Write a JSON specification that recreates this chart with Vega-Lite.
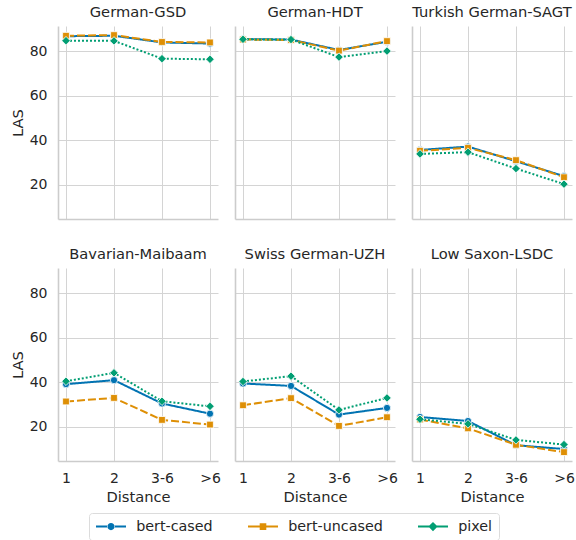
{
  "$schema": "https://vega.github.io/schema/vega-lite/v6.json",
  "padding": {"left": 10, "top": 5, "right": 5, "bottom": 0},
  "background": "white",
  "data": {"values": [
    {"ds": "German-GSD", "model": "bert-cased", "dist": "1", "las": 86.8},
    {"ds": "German-GSD", "model": "bert-cased", "dist": "2", "las": 87.0},
    {"ds": "German-GSD", "model": "bert-cased", "dist": "3-6", "las": 84.0},
    {"ds": "German-GSD", "model": "bert-cased", "dist": ">6", "las": 83.5},
    {"ds": "German-GSD", "model": "bert-uncased", "dist": "1", "las": 87.0},
    {"ds": "German-GSD", "model": "bert-uncased", "dist": "2", "las": 87.3},
    {"ds": "German-GSD", "model": "bert-uncased", "dist": "3-6", "las": 84.2},
    {"ds": "German-GSD", "model": "bert-uncased", "dist": ">6", "las": 84.0},
    {"ds": "German-GSD", "model": "pixel", "dist": "1", "las": 84.8},
    {"ds": "German-GSD", "model": "pixel", "dist": "2", "las": 84.7},
    {"ds": "German-GSD", "model": "pixel", "dist": "3-6", "las": 76.7},
    {"ds": "German-GSD", "model": "pixel", "dist": ">6", "las": 76.4},
    {"ds": "German-HDT", "model": "bert-cased", "dist": "1", "las": 85.5},
    {"ds": "German-HDT", "model": "bert-cased", "dist": "2", "las": 85.3},
    {"ds": "German-HDT", "model": "bert-cased", "dist": "3-6", "las": 80.6},
    {"ds": "German-HDT", "model": "bert-cased", "dist": ">6", "las": 84.3},
    {"ds": "German-HDT", "model": "bert-uncased", "dist": "1", "las": 85.3},
    {"ds": "German-HDT", "model": "bert-uncased", "dist": "2", "las": 85.1},
    {"ds": "German-HDT", "model": "bert-uncased", "dist": "3-6", "las": 80.3},
    {"ds": "German-HDT", "model": "bert-uncased", "dist": ">6", "las": 84.6},
    {"ds": "German-HDT", "model": "pixel", "dist": "1", "las": 85.4},
    {"ds": "German-HDT", "model": "pixel", "dist": "2", "las": 85.3},
    {"ds": "German-HDT", "model": "pixel", "dist": "3-6", "las": 77.4},
    {"ds": "German-HDT", "model": "pixel", "dist": ">6", "las": 80.1},
    {"ds": "Turkish German-SAGT", "model": "bert-cased", "dist": "1", "las": 35.6},
    {"ds": "Turkish German-SAGT", "model": "bert-cased", "dist": "2", "las": 37.1},
    {"ds": "Turkish German-SAGT", "model": "bert-cased", "dist": "3-6", "las": 30.5},
    {"ds": "Turkish German-SAGT", "model": "bert-cased", "dist": ">6", "las": 23.8},
    {"ds": "Turkish German-SAGT", "model": "bert-uncased", "dist": "1", "las": 35.2},
    {"ds": "Turkish German-SAGT", "model": "bert-uncased", "dist": "2", "las": 36.5},
    {"ds": "Turkish German-SAGT", "model": "bert-uncased", "dist": "3-6", "las": 31.0},
    {"ds": "Turkish German-SAGT", "model": "bert-uncased", "dist": ">6", "las": 23.3},
    {"ds": "Turkish German-SAGT", "model": "pixel", "dist": "1", "las": 33.8},
    {"ds": "Turkish German-SAGT", "model": "pixel", "dist": "2", "las": 34.6},
    {"ds": "Turkish German-SAGT", "model": "pixel", "dist": "3-6", "las": 27.2},
    {"ds": "Turkish German-SAGT", "model": "pixel", "dist": ">6", "las": 20.2},
    {"ds": "Bavarian-Maibaam", "model": "bert-cased", "dist": "1", "las": 39.1},
    {"ds": "Bavarian-Maibaam", "model": "bert-cased", "dist": "2", "las": 40.9},
    {"ds": "Bavarian-Maibaam", "model": "bert-cased", "dist": "3-6", "las": 30.4},
    {"ds": "Bavarian-Maibaam", "model": "bert-cased", "dist": ">6", "las": 25.8},
    {"ds": "Bavarian-Maibaam", "model": "bert-uncased", "dist": "1", "las": 31.3},
    {"ds": "Bavarian-Maibaam", "model": "bert-uncased", "dist": "2", "las": 32.9},
    {"ds": "Bavarian-Maibaam", "model": "bert-uncased", "dist": "3-6", "las": 23.0},
    {"ds": "Bavarian-Maibaam", "model": "bert-uncased", "dist": ">6", "las": 20.9},
    {"ds": "Bavarian-Maibaam", "model": "pixel", "dist": "1", "las": 40.4},
    {"ds": "Bavarian-Maibaam", "model": "pixel", "dist": "2", "las": 44.2},
    {"ds": "Bavarian-Maibaam", "model": "pixel", "dist": "3-6", "las": 31.4},
    {"ds": "Bavarian-Maibaam", "model": "pixel", "dist": ">6", "las": 29.1},
    {"ds": "Swiss German-UZH", "model": "bert-cased", "dist": "1", "las": 39.4},
    {"ds": "Swiss German-UZH", "model": "bert-cased", "dist": "2", "las": 38.3},
    {"ds": "Swiss German-UZH", "model": "bert-cased", "dist": "3-6", "las": 25.4},
    {"ds": "Swiss German-UZH", "model": "bert-cased", "dist": ">6", "las": 28.4},
    {"ds": "Swiss German-UZH", "model": "bert-uncased", "dist": "1", "las": 29.6},
    {"ds": "Swiss German-UZH", "model": "bert-uncased", "dist": "2", "las": 32.8},
    {"ds": "Swiss German-UZH", "model": "bert-uncased", "dist": "3-6", "las": 20.3},
    {"ds": "Swiss German-UZH", "model": "bert-uncased", "dist": ">6", "las": 24.2},
    {"ds": "Swiss German-UZH", "model": "pixel", "dist": "1", "las": 40.3},
    {"ds": "Swiss German-UZH", "model": "pixel", "dist": "2", "las": 42.7},
    {"ds": "Swiss German-UZH", "model": "pixel", "dist": "3-6", "las": 27.5},
    {"ds": "Swiss German-UZH", "model": "pixel", "dist": ">6", "las": 32.9},
    {"ds": "Low Saxon-LSDC", "model": "bert-cased", "dist": "1", "las": 24.3},
    {"ds": "Low Saxon-LSDC", "model": "bert-cased", "dist": "2", "las": 22.5},
    {"ds": "Low Saxon-LSDC", "model": "bert-cased", "dist": "3-6", "las": 11.6},
    {"ds": "Low Saxon-LSDC", "model": "bert-cased", "dist": ">6", "las": 9.9},
    {"ds": "Low Saxon-LSDC", "model": "bert-uncased", "dist": "1", "las": 23.2},
    {"ds": "Low Saxon-LSDC", "model": "bert-uncased", "dist": "2", "las": 19.2},
    {"ds": "Low Saxon-LSDC", "model": "bert-uncased", "dist": "3-6", "las": 11.8},
    {"ds": "Low Saxon-LSDC", "model": "bert-uncased", "dist": ">6", "las": 8.5},
    {"ds": "Low Saxon-LSDC", "model": "pixel", "dist": "1", "las": 23.3},
    {"ds": "Low Saxon-LSDC", "model": "pixel", "dist": "2", "las": 21.2},
    {"ds": "Low Saxon-LSDC", "model": "pixel", "dist": "3-6", "las": 14.0},
    {"ds": "Low Saxon-LSDC", "model": "pixel", "dist": ">6", "las": 11.9}
  ]},
  "columns": 3,
  "bounds": "flush",
  "spacing": {"row": 49, "column": 17},
  "concat": [
    {
      "width": 160, "height": 193,
      "title": {"text": "German-GSD", "fontWeight": "normal"},
      "transform": [{"filter": "datum.ds === 'German-GSD'"}],
      "encoding": {
        "x": {"field": "dist", "type": "ordinal", "sort": ["1", "2", "3-6", ">6"], "scale": {"type": "point", "padding": 0.1667}, "axis": {"labels": false, "title": null, "grid": true}},
        "y": {"field": "las", "type": "quantitative", "scale": {"domain": [4.5, 91.4], "nice": false, "zero": false}, "axis": {"values": [20, 40, 60, 80], "title": "LAS", "grid": true}}
      },
      "layer": [
        {"mark": {"type": "line", "strokeWidth": 2}, "encoding": {
          "stroke": {"field": "model", "type": "nominal", "scale": {"domain": ["bert-cased", "bert-uncased", "pixel"], "range": ["#0173B2", "#DE8F05", "#029E73"]}, "legend": {"title": null, "orient": "none", "legendX": 31, "legendY": 487, "direction": "horizontal", "columns": 3, "encode": {"symbols": {"update": {"shape": {"signal": "'M-2,-0.133L-0.4,-0.133L-0.4,0.133L-2,0.133ZM0.4,-0.133L2,-0.133L2,0.133L0.4,0.133Z' + (datum.value === 'bert-cased' ? 'M-0.48,0A0.48,0.48,0,1,0,0.48,0A0.48,0.48,0,1,0,-0.48,0Z' : datum.value === 'bert-uncased' ? 'M-0.44,-0.44L0.44,-0.44L0.44,0.44L-0.44,0.44Z' : 'M0,-0.62L0.62,0L0,0.62L-0.62,0Z')"}, "fill": {"scale": "stroke", "field": "value"}, "strokeWidth": {"value": 0}, "opacity": {"value": 1}}}}}},
          "strokeDash": {"field": "model", "type": "nominal", "scale": {"domain": ["bert-cased", "bert-uncased", "pixel"], "range": [[1, 0], [8, 3], [2, 2]]}, "legend": null}}},
        {"transform": [{"filter": "datum.model === 'bert-cased'"}], "mark": {"type": "point", "shape": "circle", "size": 52, "filled": true, "stroke": "white", "strokeWidth": 0.8, "opacity": 1}, "encoding": {"fill": {"field": "model", "type": "nominal", "scale": {"domain": ["bert-cased", "bert-uncased", "pixel"], "range": ["#0173B2", "#DE8F05", "#029E73"]}, "legend": null}}},
        {"transform": [{"filter": "datum.model === 'bert-uncased'"}], "mark": {"type": "point", "shape": "square", "size": 46, "filled": true, "stroke": "white", "strokeWidth": 0.8, "opacity": 1}, "encoding": {"fill": {"field": "model", "type": "nominal", "scale": {"domain": ["bert-cased", "bert-uncased", "pixel"], "range": ["#0173B2", "#DE8F05", "#029E73"]}, "legend": null}}},
        {"transform": [{"filter": "datum.model === 'pixel'"}], "mark": {"type": "point", "shape": "diamond", "size": 72, "filled": true, "stroke": "white", "strokeWidth": 0.8, "opacity": 1}, "encoding": {"fill": {"field": "model", "type": "nominal", "scale": {"domain": ["bert-cased", "bert-uncased", "pixel"], "range": ["#0173B2", "#DE8F05", "#029E73"]}, "legend": null}}}
      ]
    },
    {
      "width": 160, "height": 193,
      "title": {"text": "German-HDT", "fontWeight": "normal"},
      "transform": [{"filter": "datum.ds === 'German-HDT'"}],
      "encoding": {
        "x": {"field": "dist", "type": "ordinal", "sort": ["1", "2", "3-6", ">6"], "scale": {"type": "point", "padding": 0.1667}, "axis": {"labels": false, "title": null, "grid": true}},
        "y": {"field": "las", "type": "quantitative", "scale": {"domain": [4.5, 91.4], "nice": false, "zero": false}, "axis": {"values": [20, 40, 60, 80], "labels": false, "title": null, "grid": true}}
      },
      "layer": [
        {"mark": {"type": "line", "strokeWidth": 2}, "encoding": {
          "stroke": {"field": "model", "type": "nominal", "scale": {"domain": ["bert-cased", "bert-uncased", "pixel"], "range": ["#0173B2", "#DE8F05", "#029E73"]}, "legend": {"title": null, "orient": "none", "legendX": 31, "legendY": 487, "direction": "horizontal", "columns": 3, "encode": {"symbols": {"update": {"shape": {"signal": "'M-2,-0.133L-0.4,-0.133L-0.4,0.133L-2,0.133ZM0.4,-0.133L2,-0.133L2,0.133L0.4,0.133Z' + (datum.value === 'bert-cased' ? 'M-0.48,0A0.48,0.48,0,1,0,0.48,0A0.48,0.48,0,1,0,-0.48,0Z' : datum.value === 'bert-uncased' ? 'M-0.44,-0.44L0.44,-0.44L0.44,0.44L-0.44,0.44Z' : 'M0,-0.62L0.62,0L0,0.62L-0.62,0Z')"}, "fill": {"scale": "stroke", "field": "value"}, "strokeWidth": {"value": 0}, "opacity": {"value": 1}}}}}},
          "strokeDash": {"field": "model", "type": "nominal", "scale": {"domain": ["bert-cased", "bert-uncased", "pixel"], "range": [[1, 0], [8, 3], [2, 2]]}, "legend": null}}},
        {"transform": [{"filter": "datum.model === 'bert-cased'"}], "mark": {"type": "point", "shape": "circle", "size": 52, "filled": true, "stroke": "white", "strokeWidth": 0.8, "opacity": 1}, "encoding": {"fill": {"field": "model", "type": "nominal", "scale": {"domain": ["bert-cased", "bert-uncased", "pixel"], "range": ["#0173B2", "#DE8F05", "#029E73"]}, "legend": null}}},
        {"transform": [{"filter": "datum.model === 'bert-uncased'"}], "mark": {"type": "point", "shape": "square", "size": 46, "filled": true, "stroke": "white", "strokeWidth": 0.8, "opacity": 1}, "encoding": {"fill": {"field": "model", "type": "nominal", "scale": {"domain": ["bert-cased", "bert-uncased", "pixel"], "range": ["#0173B2", "#DE8F05", "#029E73"]}, "legend": null}}},
        {"transform": [{"filter": "datum.model === 'pixel'"}], "mark": {"type": "point", "shape": "diamond", "size": 72, "filled": true, "stroke": "white", "strokeWidth": 0.8, "opacity": 1}, "encoding": {"fill": {"field": "model", "type": "nominal", "scale": {"domain": ["bert-cased", "bert-uncased", "pixel"], "range": ["#0173B2", "#DE8F05", "#029E73"]}, "legend": null}}}
      ]
    },
    {
      "width": 160, "height": 193,
      "title": {"text": "Turkish German-SAGT", "fontWeight": "normal"},
      "transform": [{"filter": "datum.ds === 'Turkish German-SAGT'"}],
      "encoding": {
        "x": {"field": "dist", "type": "ordinal", "sort": ["1", "2", "3-6", ">6"], "scale": {"type": "point", "padding": 0.1667}, "axis": {"labels": false, "title": null, "grid": true}},
        "y": {"field": "las", "type": "quantitative", "scale": {"domain": [4.5, 91.4], "nice": false, "zero": false}, "axis": {"values": [20, 40, 60, 80], "labels": false, "title": null, "grid": true}}
      },
      "layer": [
        {"mark": {"type": "line", "strokeWidth": 2}, "encoding": {
          "stroke": {"field": "model", "type": "nominal", "scale": {"domain": ["bert-cased", "bert-uncased", "pixel"], "range": ["#0173B2", "#DE8F05", "#029E73"]}, "legend": {"title": null, "orient": "none", "legendX": 31, "legendY": 487, "direction": "horizontal", "columns": 3, "encode": {"symbols": {"update": {"shape": {"signal": "'M-2,-0.133L-0.4,-0.133L-0.4,0.133L-2,0.133ZM0.4,-0.133L2,-0.133L2,0.133L0.4,0.133Z' + (datum.value === 'bert-cased' ? 'M-0.48,0A0.48,0.48,0,1,0,0.48,0A0.48,0.48,0,1,0,-0.48,0Z' : datum.value === 'bert-uncased' ? 'M-0.44,-0.44L0.44,-0.44L0.44,0.44L-0.44,0.44Z' : 'M0,-0.62L0.62,0L0,0.62L-0.62,0Z')"}, "fill": {"scale": "stroke", "field": "value"}, "strokeWidth": {"value": 0}, "opacity": {"value": 1}}}}}},
          "strokeDash": {"field": "model", "type": "nominal", "scale": {"domain": ["bert-cased", "bert-uncased", "pixel"], "range": [[1, 0], [8, 3], [2, 2]]}, "legend": null}}},
        {"transform": [{"filter": "datum.model === 'bert-cased'"}], "mark": {"type": "point", "shape": "circle", "size": 52, "filled": true, "stroke": "white", "strokeWidth": 0.8, "opacity": 1}, "encoding": {"fill": {"field": "model", "type": "nominal", "scale": {"domain": ["bert-cased", "bert-uncased", "pixel"], "range": ["#0173B2", "#DE8F05", "#029E73"]}, "legend": null}}},
        {"transform": [{"filter": "datum.model === 'bert-uncased'"}], "mark": {"type": "point", "shape": "square", "size": 46, "filled": true, "stroke": "white", "strokeWidth": 0.8, "opacity": 1}, "encoding": {"fill": {"field": "model", "type": "nominal", "scale": {"domain": ["bert-cased", "bert-uncased", "pixel"], "range": ["#0173B2", "#DE8F05", "#029E73"]}, "legend": null}}},
        {"transform": [{"filter": "datum.model === 'pixel'"}], "mark": {"type": "point", "shape": "diamond", "size": 72, "filled": true, "stroke": "white", "strokeWidth": 0.8, "opacity": 1}, "encoding": {"fill": {"field": "model", "type": "nominal", "scale": {"domain": ["bert-cased", "bert-uncased", "pixel"], "range": ["#0173B2", "#DE8F05", "#029E73"]}, "legend": null}}}
      ]
    },
    {
      "width": 160, "height": 193,
      "title": {"text": "Bavarian-Maibaam", "fontWeight": "normal"},
      "transform": [{"filter": "datum.ds === 'Bavarian-Maibaam'"}],
      "encoding": {
        "x": {"field": "dist", "type": "ordinal", "sort": ["1", "2", "3-6", ">6"], "scale": {"type": "point", "padding": 0.1667}, "axis": {"title": "Distance", "grid": true}},
        "y": {"field": "las", "type": "quantitative", "scale": {"domain": [4.5, 91.4], "nice": false, "zero": false}, "axis": {"values": [20, 40, 60, 80], "title": "LAS", "grid": true}}
      },
      "layer": [
        {"mark": {"type": "line", "strokeWidth": 2}, "encoding": {
          "stroke": {"field": "model", "type": "nominal", "scale": {"domain": ["bert-cased", "bert-uncased", "pixel"], "range": ["#0173B2", "#DE8F05", "#029E73"]}, "legend": {"title": null, "orient": "none", "legendX": 31, "legendY": 487, "direction": "horizontal", "columns": 3, "encode": {"symbols": {"update": {"shape": {"signal": "'M-2,-0.133L-0.4,-0.133L-0.4,0.133L-2,0.133ZM0.4,-0.133L2,-0.133L2,0.133L0.4,0.133Z' + (datum.value === 'bert-cased' ? 'M-0.48,0A0.48,0.48,0,1,0,0.48,0A0.48,0.48,0,1,0,-0.48,0Z' : datum.value === 'bert-uncased' ? 'M-0.44,-0.44L0.44,-0.44L0.44,0.44L-0.44,0.44Z' : 'M0,-0.62L0.62,0L0,0.62L-0.62,0Z')"}, "fill": {"scale": "stroke", "field": "value"}, "strokeWidth": {"value": 0}, "opacity": {"value": 1}}}}}},
          "strokeDash": {"field": "model", "type": "nominal", "scale": {"domain": ["bert-cased", "bert-uncased", "pixel"], "range": [[1, 0], [8, 3], [2, 2]]}, "legend": null}}},
        {"transform": [{"filter": "datum.model === 'bert-cased'"}], "mark": {"type": "point", "shape": "circle", "size": 52, "filled": true, "stroke": "white", "strokeWidth": 0.8, "opacity": 1}, "encoding": {"fill": {"field": "model", "type": "nominal", "scale": {"domain": ["bert-cased", "bert-uncased", "pixel"], "range": ["#0173B2", "#DE8F05", "#029E73"]}, "legend": null}}},
        {"transform": [{"filter": "datum.model === 'bert-uncased'"}], "mark": {"type": "point", "shape": "square", "size": 46, "filled": true, "stroke": "white", "strokeWidth": 0.8, "opacity": 1}, "encoding": {"fill": {"field": "model", "type": "nominal", "scale": {"domain": ["bert-cased", "bert-uncased", "pixel"], "range": ["#0173B2", "#DE8F05", "#029E73"]}, "legend": null}}},
        {"transform": [{"filter": "datum.model === 'pixel'"}], "mark": {"type": "point", "shape": "diamond", "size": 72, "filled": true, "stroke": "white", "strokeWidth": 0.8, "opacity": 1}, "encoding": {"fill": {"field": "model", "type": "nominal", "scale": {"domain": ["bert-cased", "bert-uncased", "pixel"], "range": ["#0173B2", "#DE8F05", "#029E73"]}, "legend": null}}}
      ]
    },
    {
      "width": 160, "height": 193,
      "title": {"text": "Swiss German-UZH", "fontWeight": "normal"},
      "transform": [{"filter": "datum.ds === 'Swiss German-UZH'"}],
      "encoding": {
        "x": {"field": "dist", "type": "ordinal", "sort": ["1", "2", "3-6", ">6"], "scale": {"type": "point", "padding": 0.1667}, "axis": {"title": "Distance", "grid": true}},
        "y": {"field": "las", "type": "quantitative", "scale": {"domain": [4.5, 91.4], "nice": false, "zero": false}, "axis": {"values": [20, 40, 60, 80], "labels": false, "title": null, "grid": true}}
      },
      "layer": [
        {"mark": {"type": "line", "strokeWidth": 2}, "encoding": {
          "stroke": {"field": "model", "type": "nominal", "scale": {"domain": ["bert-cased", "bert-uncased", "pixel"], "range": ["#0173B2", "#DE8F05", "#029E73"]}, "legend": {"title": null, "orient": "none", "legendX": 31, "legendY": 487, "direction": "horizontal", "columns": 3, "encode": {"symbols": {"update": {"shape": {"signal": "'M-2,-0.133L-0.4,-0.133L-0.4,0.133L-2,0.133ZM0.4,-0.133L2,-0.133L2,0.133L0.4,0.133Z' + (datum.value === 'bert-cased' ? 'M-0.48,0A0.48,0.48,0,1,0,0.48,0A0.48,0.48,0,1,0,-0.48,0Z' : datum.value === 'bert-uncased' ? 'M-0.44,-0.44L0.44,-0.44L0.44,0.44L-0.44,0.44Z' : 'M0,-0.62L0.62,0L0,0.62L-0.62,0Z')"}, "fill": {"scale": "stroke", "field": "value"}, "strokeWidth": {"value": 0}, "opacity": {"value": 1}}}}}},
          "strokeDash": {"field": "model", "type": "nominal", "scale": {"domain": ["bert-cased", "bert-uncased", "pixel"], "range": [[1, 0], [8, 3], [2, 2]]}, "legend": null}}},
        {"transform": [{"filter": "datum.model === 'bert-cased'"}], "mark": {"type": "point", "shape": "circle", "size": 52, "filled": true, "stroke": "white", "strokeWidth": 0.8, "opacity": 1}, "encoding": {"fill": {"field": "model", "type": "nominal", "scale": {"domain": ["bert-cased", "bert-uncased", "pixel"], "range": ["#0173B2", "#DE8F05", "#029E73"]}, "legend": null}}},
        {"transform": [{"filter": "datum.model === 'bert-uncased'"}], "mark": {"type": "point", "shape": "square", "size": 46, "filled": true, "stroke": "white", "strokeWidth": 0.8, "opacity": 1}, "encoding": {"fill": {"field": "model", "type": "nominal", "scale": {"domain": ["bert-cased", "bert-uncased", "pixel"], "range": ["#0173B2", "#DE8F05", "#029E73"]}, "legend": null}}},
        {"transform": [{"filter": "datum.model === 'pixel'"}], "mark": {"type": "point", "shape": "diamond", "size": 72, "filled": true, "stroke": "white", "strokeWidth": 0.8, "opacity": 1}, "encoding": {"fill": {"field": "model", "type": "nominal", "scale": {"domain": ["bert-cased", "bert-uncased", "pixel"], "range": ["#0173B2", "#DE8F05", "#029E73"]}, "legend": null}}}
      ]
    },
    {
      "width": 160, "height": 193,
      "title": {"text": "Low Saxon-LSDC", "fontWeight": "normal"},
      "transform": [{"filter": "datum.ds === 'Low Saxon-LSDC'"}],
      "encoding": {
        "x": {"field": "dist", "type": "ordinal", "sort": ["1", "2", "3-6", ">6"], "scale": {"type": "point", "padding": 0.1667}, "axis": {"title": "Distance", "grid": true}},
        "y": {"field": "las", "type": "quantitative", "scale": {"domain": [4.5, 91.4], "nice": false, "zero": false}, "axis": {"values": [20, 40, 60, 80], "labels": false, "title": null, "grid": true}}
      },
      "layer": [
        {"mark": {"type": "line", "strokeWidth": 2}, "encoding": {
          "stroke": {"field": "model", "type": "nominal", "scale": {"domain": ["bert-cased", "bert-uncased", "pixel"], "range": ["#0173B2", "#DE8F05", "#029E73"]}, "legend": {"title": null, "orient": "none", "legendX": 31, "legendY": 487, "direction": "horizontal", "columns": 3, "encode": {"symbols": {"update": {"shape": {"signal": "'M-2,-0.133L-0.4,-0.133L-0.4,0.133L-2,0.133ZM0.4,-0.133L2,-0.133L2,0.133L0.4,0.133Z' + (datum.value === 'bert-cased' ? 'M-0.48,0A0.48,0.48,0,1,0,0.48,0A0.48,0.48,0,1,0,-0.48,0Z' : datum.value === 'bert-uncased' ? 'M-0.44,-0.44L0.44,-0.44L0.44,0.44L-0.44,0.44Z' : 'M0,-0.62L0.62,0L0,0.62L-0.62,0Z')"}, "fill": {"scale": "stroke", "field": "value"}, "strokeWidth": {"value": 0}, "opacity": {"value": 1}}}}}},
          "strokeDash": {"field": "model", "type": "nominal", "scale": {"domain": ["bert-cased", "bert-uncased", "pixel"], "range": [[1, 0], [8, 3], [2, 2]]}, "legend": null}}},
        {"transform": [{"filter": "datum.model === 'bert-cased'"}], "mark": {"type": "point", "shape": "circle", "size": 52, "filled": true, "stroke": "white", "strokeWidth": 0.8, "opacity": 1}, "encoding": {"fill": {"field": "model", "type": "nominal", "scale": {"domain": ["bert-cased", "bert-uncased", "pixel"], "range": ["#0173B2", "#DE8F05", "#029E73"]}, "legend": null}}},
        {"transform": [{"filter": "datum.model === 'bert-uncased'"}], "mark": {"type": "point", "shape": "square", "size": 46, "filled": true, "stroke": "white", "strokeWidth": 0.8, "opacity": 1}, "encoding": {"fill": {"field": "model", "type": "nominal", "scale": {"domain": ["bert-cased", "bert-uncased", "pixel"], "range": ["#0173B2", "#DE8F05", "#029E73"]}, "legend": null}}},
        {"transform": [{"filter": "datum.model === 'pixel'"}], "mark": {"type": "point", "shape": "diamond", "size": 72, "filled": true, "stroke": "white", "strokeWidth": 0.8, "opacity": 1}, "encoding": {"fill": {"field": "model", "type": "nominal", "scale": {"domain": ["bert-cased", "bert-uncased", "pixel"], "range": ["#0173B2", "#DE8F05", "#029E73"]}, "legend": null}}}
      ]
    }
  ],
  "config": {
    "font": "DejaVu Sans",
    "view": {"stroke": null},
    "title": {"fontSize": 14.67, "fontWeight": "normal", "color": "#262626", "anchor": "middle", "frame": "group", "baseline": "alphabetic", "offset": 6},
    "style": {"group-title": {"fontWeight": "normal"}},
    "axis": {"domainColor": "#cccccc", "domainWidth": 1.6, "gridColor": "#d4d4d4", "gridWidth": 1, "ticks": false, "tickSize": 0, "labelFontSize": 14, "labelColor": "#262626", "titleFontSize": 14.67, "titleFontWeight": "normal", "titleColor": "#262626"},
    "axisX": {"labelAngle": 0, "labelPadding": 10, "titlePadding": 4},
    "axisY": {"labelPadding": 11, "titlePadding": 4},
    "legend": {"labelFontSize": 14.3, "labelColor": "#262626", "symbolSize": 225, "symbolStrokeWidth": 0, "symbolOffset": 8.5, "labelOffset": 17.7, "columnPadding": 34, "padding": 6, "strokeColor": "#dcdcdc", "fillColor": "white", "cornerRadius": 3, "symbolOpacity": 1}
  }
}
